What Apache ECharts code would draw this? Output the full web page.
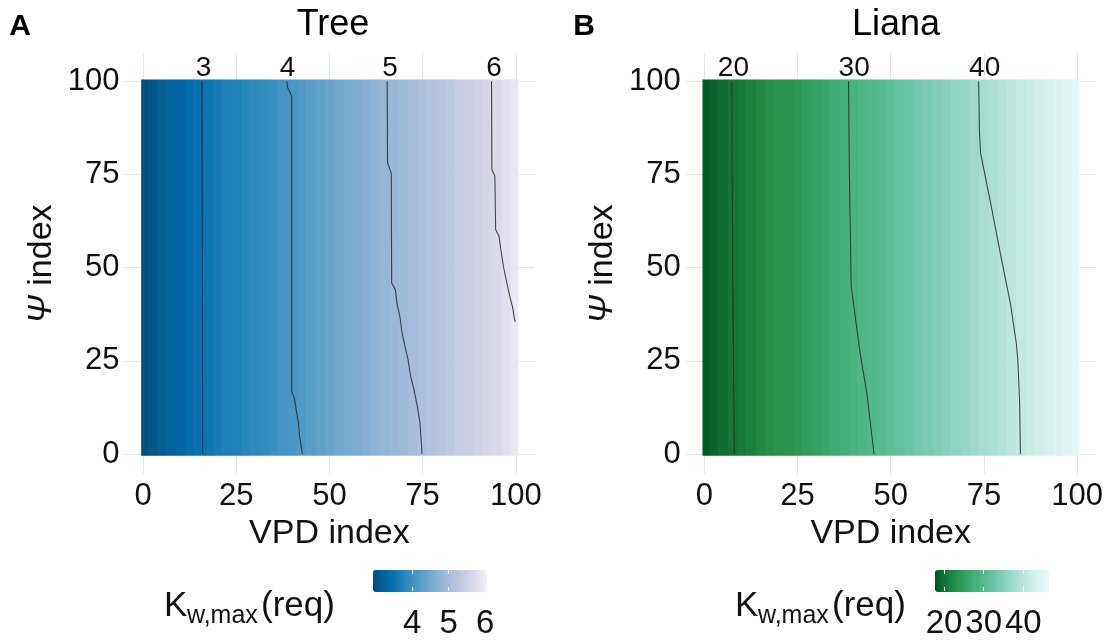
<!DOCTYPE html>
<html>
<head>
<meta charset="utf-8">
<script src="https://cdn.jsdelivr.net/npm/echarts@6/dist/echarts.min.js"></script>
<style>
  html, body { margin: 0; padding: 0; background: #fff; }
  #chart { width: 1111px; height: 640px; }
</style>
</head>
<body>
<div id="chart"></div>
<script>
// VPD index columns of the raster
const vpdIndex = [0, 2.5, 5, 7.5, 10, 12.5, 15, 17.5, 20, 22.5, 25, 27.5, 30, 32.5, 35, 37.5, 40, 42.5, 45, 47.5,
  50, 52.5, 55, 57.5, 60, 62.5, 65, 67.5, 70, 72.5, 75, 77.5, 80, 82.5, 85, 87.5, 90, 92.5, 95, 97.5, 100];
const treeK = [2.95, 3.05, 3.15, 3.24, 3.33, 3.41, 3.48, 3.55, 3.62, 3.69, 3.76, 3.82, 3.88, 3.94, 4.0, 4.06, 4.12, 4.18, 4.25, 4.32,
  4.39, 4.46, 4.53, 4.6, 4.67, 4.74, 4.81, 4.88, 4.95, 5.02, 5.09, 5.16, 5.23, 5.3, 5.38, 5.46, 5.54, 5.62, 5.7, 5.8, 5.92];
const lianaK = [18.0, 18.8, 19.6, 20.3, 21.0, 21.6, 22.2, 22.8, 23.3, 23.8, 24.3, 24.9, 25.5, 26.1, 26.8, 27.5, 28.3, 29.0, 29.7, 30.4,
  31.1, 31.8, 32.5, 33.2, 33.9, 34.6, 35.3, 36.0, 36.7, 37.4, 38.1, 38.8, 39.5, 40.2, 40.9, 41.6, 42.4, 43.2, 44.0, 44.8, 45.6];

// contour lines [VPD index, psi index]
const treeC3 = [[15.8, 100], [15.9, 50], [16.0, 0]];
const treeC4 = [[38.6, 100], [38.8, 98.3], [39.9, 96], [39.9, 16.7], [40.6, 15], [41.1, 11.8], [41.7, 8.2], [42.0, 4.7], [42.6, 1.1], [42.7, 0]];
const treeC5 = [[65.5, 100], [65.6, 78.1], [66.6, 75.3], [66.7, 45.9], [67.7, 44.1], [68.1, 40.5], [68.9, 36.9], [69.5, 32.4], [70.3, 28.8],
  [71.1, 25.3], [71.8, 20.8], [72.7, 17.2], [73.6, 12.7], [74.3, 8.2], [74.8, 1.1], [74.8, 0]];
const treeC6 = [[93.5, 100], [93.6, 76.3], [94.4, 74.5], [94.6, 60.2], [95.5, 58.4], [96.0, 54.8], [96.7, 50.3], [97.6, 45.9], [98.4, 42.3],
  [99.1, 39.6], [99.7, 36.0], [99.9, 35.5]];
const lianaC20 = [[7.35, 100], [7.6, 49.5], [8.05, 0]];
const lianaC30 = [[38.7, 100], [38.9, 76.3], [39.4, 45], [40.0, 40.5], [41.8, 27], [43.6, 16.3], [45.4, 1], [45.5, 0]];
const lianaC40 = [[73.6, 100], [73.8, 87.1], [74.1, 80.8], [76.8, 67.4], [79.4, 53.9], [82.1, 40.5], [83.7, 29.7], [84.1, 25.3], [84.6, 13.6], [84.8, 0]];

// contour labels
const treeLevels = [3, 4, 5, 6];
const treeLabelX = [16.2, 38.8, 66.3, 94.2];
const lianaLevels = [20, 30, 40];
const lianaLabelX = [7.8, 40.2, 75.2];
const labelY = 103.6;

const axisTicks = [0, 25, 50, 75, 100];
const treeBarTicks = [4, 5, 6];
const lianaBarTicks = [20, 30, 40];
const treeRange = [2.93, 6.05];
const lianaRange = [17.7, 46.5];

const treePal = ['#034E7B', '#0570B0', '#3690C0', '#74A9CF', '#A6BDDB', '#D0D1E6', '#F1EEF6'];
const lianaPal = ['#005824', '#238B45', '#41AE76', '#66C2A4', '#99D8C9', '#CCECE6', '#EDF8FB'];

const FONT = '"Liberation Sans", Arial, sans-serif';
const TXT = '#111';

const chart = echarts.init(document.getElementById('chart'));

function heatItem(params, api) {
  const x = api.value(0);
  const a = api.coord([Math.max(x - 1.25, -0.5), 100.5]);
  const b = api.coord([Math.min(x + 1.25, 100.5), -0.5]);
  return {
    type: 'rect',
    shape: { x: a[0], y: a[1], width: b[0] - a[0] + 0.6, height: b[1] - a[1] },
    style: { fill: api.visual('color') }
  };
}

function xAx(g) {
  return {
    gridIndex: g, type: 'value', min: -5, max: 105,
    name: 'VPD index', nameLocation: 'middle', nameGap: 37,
    nameTextStyle: { fontSize: 34, color: TXT, fontFamily: FONT },
    axisLine: { show: false },
    axisTick: { show: false, customValues: axisTicks },
    axisLabel: { customValues: axisTicks, fontSize: 31, color: TXT, fontFamily: FONT, margin: 6 },
    splitLine: { show: true, lineStyle: { color: '#e6e6e6', width: 1 } }
  };
}
function yAx(g) {
  return {
    gridIndex: g, type: 'value', min: -5.5, max: 107.5,
    name: '{p|Ψ} index', nameLocation: 'middle', nameGap: 66,
    nameTextStyle: { fontSize: 34, color: TXT, fontFamily: FONT, rich: { p: { fontSize: 34, fontStyle: 'italic', color: TXT, fontFamily: FONT } } },
    axisLine: { show: false },
    axisTick: { show: false, customValues: axisTicks },
    axisLabel: { customValues: axisTicks, fontSize: 31, color: TXT, fontFamily: FONT, margin: 5 },
    splitLine: { show: true, lineStyle: { color: '#e6e6e6', width: 1 } }
  };
}
function barAx(g, range, ticks, pos) {
  return {
    gridIndex: g, type: 'value', min: range[0], max: range[1], position: pos, z: 10,
    axisLine: { show: false },
    axisTick: { show: true, inside: true, length: 4, customValues: ticks, lineStyle: { color: '#fff', width: 1 } },
    axisLabel: { show: pos === 'bottom', customValues: ticks, fontSize: 33, color: TXT, fontFamily: FONT, margin: 16 },
    splitLine: { show: false }
  };
}
function hideY(g) {
  return { gridIndex: g, type: 'value', show: false, min: 0, max: 1 };
}
function contour(g, pts) {
  return {
    type: 'line', xAxisIndex: g, yAxisIndex: g, data: pts, showSymbol: false, silent: true, z: 5,
    lineStyle: { color: '#2a2a2a', width: 1.1, opacity: 0.85 }
  };
}
function labels(g, xs, levels) {
  return {
    type: 'scatter', xAxisIndex: g, yAxisIndex: g, silent: true, z: 6, clip: false,
    data: xs.map((x, i) => [x, labelY, levels[i]]),
    symbolSize: 2, itemStyle: { color: 'rgba(0,0,0,0)', opacity: 1 },
    label: { show: true, position: 'inside', formatter: p => String(p.value[2]), fontSize: 28, color: TXT, opacity: 1, fontFamily: FONT }
  };
}
function legendTitle(x) {
  return [
    { type: 'text', x: x, y: 606, style: { text: 'K', fontSize: 35, fill: TXT, fontFamily: FONT, textVerticalAlign: 'middle' } },
    { type: 'text', x: x + 23, y: 616, style: { text: 'w,max', fontSize: 25, fill: TXT, fontFamily: FONT, textVerticalAlign: 'middle' } },
    { type: 'text', x: x + 97, y: 606, style: { text: '(req)', fontSize: 35, fill: TXT, fontFamily: FONT, textVerticalAlign: 'middle' } }
  ];
}

const option = {
  backgroundColor: '#fff',
  animation: false,
  grid: [
    { left: 124.4, top: 53.3, width: 410, height: 421.2 },
    { left: 685.7, top: 53.3, width: 410, height: 421.2 },
    { left: 373, top: 570, width: 114, height: 22 },
    { left: 935, top: 570, width: 114, height: 22 }
  ],
  xAxis: [xAx(0), xAx(1), barAx(2, treeRange, treeBarTicks, 'bottom'), barAx(2, treeRange, treeBarTicks, 'top'),
    barAx(3, lianaRange, lianaBarTicks, 'bottom'), barAx(3, lianaRange, lianaBarTicks, 'top')],
  yAxis: [yAx(0), yAx(1), hideY(2), hideY(3)],
  visualMap: [
    { type: 'continuous', seriesIndex: 0, dimension: 1, min: treeRange[0], max: treeRange[1], inRange: { color: treePal },
      orient: 'horizontal', left: 373, top: 570, itemWidth: 22, itemHeight: 114, padding: 0, calculable: false, hoverLink: false, text: null },
    { type: 'continuous', seriesIndex: 1, dimension: 1, min: lianaRange[0], max: lianaRange[1], inRange: { color: lianaPal },
      orient: 'horizontal', left: 935, top: 570, itemWidth: 22, itemHeight: 114, padding: 0, calculable: false, hoverLink: false, text: null }
  ],
  graphic: [
    { type: 'text', x: 20, y: 27, style: { text: 'A', fontSize: 30, fontWeight: 'bold', fill: '#000', fontFamily: FONT, textAlign: 'center', textVerticalAlign: 'middle' } },
    { type: 'text', x: 584, y: 27, style: { text: 'B', fontSize: 30, fontWeight: 'bold', fill: '#000', fontFamily: FONT, textAlign: 'center', textVerticalAlign: 'middle' } },
    { type: 'text', x: 333, y: 25, style: { text: 'Tree', fontSize: 36, fill: '#000', fontFamily: FONT, textAlign: 'center', textVerticalAlign: 'middle' } },
    { type: 'text', x: 896, y: 25, style: { text: 'Liana', fontSize: 36, fill: '#000', fontFamily: FONT, textAlign: 'center', textVerticalAlign: 'middle' } }
  ].concat(legendTitle(164), legendTitle(735)),
  series: [
    { type: 'custom', xAxisIndex: 0, yAxisIndex: 0, renderItem: heatItem, data: vpdIndex.map((x, i) => [x, treeK[i]]), silent: true, z: 2 },
    { type: 'custom', xAxisIndex: 1, yAxisIndex: 1, renderItem: heatItem, data: vpdIndex.map((x, i) => [x, lianaK[i]]), silent: true, z: 2 },
    contour(0, treeC3), contour(0, treeC4), contour(0, treeC5), contour(0, treeC6),
    contour(1, lianaC20), contour(1, lianaC30), contour(1, lianaC40),
    labels(0, treeLabelX, treeLevels), labels(1, lianaLabelX, lianaLevels)
  ]
};
chart.setOption(option);
</script>
</body>
</html>
